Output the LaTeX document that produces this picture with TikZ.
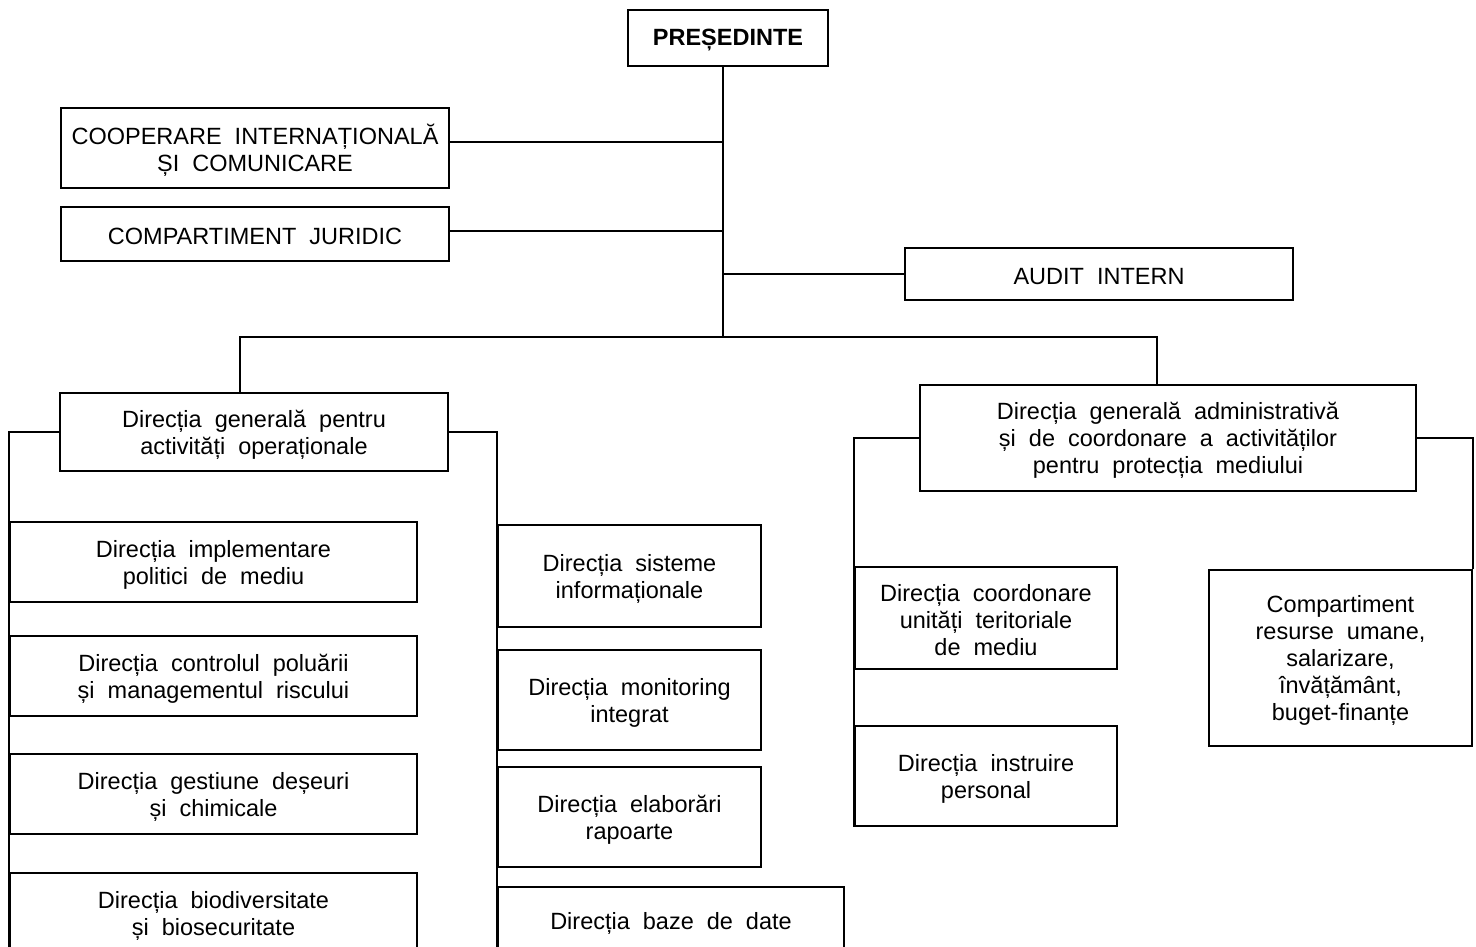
\documentclass[tikz,border=0pt]{standalone}
\usepackage{fontspec}
\setmainfont{Liberation Sans}
\begin{document}
\begin{tikzpicture}[x=1pt,y=-1pt,
  txt/.style={font={\fontsize{23.5}{27}\selectfont\spaceskip=13pt plus 2pt\relax}},
  box/.style={draw, line width=2pt, inner sep=0pt},
  lbl/.style={label={[txt, align=center, yshift=-2.5pt]center:{#1}}},
  conn/.style={line width=2pt}]
\path[use as bounding box, fill=white] (0,0) rectangle (1476,946);
\clip (0,0) rectangle (1476,946);

% boxes
\node[box, minimum width=200pt, minimum height=56pt,
  label={[font={\fontsize{23.5}{27}\selectfont\bfseries}, yshift=-2.5pt]center:PREȘEDINTE}] (pres) at (728,38) {};
\node[box, minimum width=388pt, minimum height=80pt, lbl={COOPERARE INTERNAȚIONALĂ\\ȘI COMUNICARE}] (coop) at (255,148) {};
\node[box, minimum width=388pt, minimum height=54pt, lbl={COMPARTIMENT JURIDIC}] (jur) at (255,234) {};
\node[box, minimum width=388pt, minimum height=52pt, lbl={AUDIT INTERN}] (audit) at (1099,274) {};

\node[box, minimum width=388pt, minimum height=78pt, lbl={Direcția generală pentru\\activități operaționale}] (dgop) at (254,432) {};
\node[box, minimum width=496pt, minimum height=106pt, lbl={Direcția generală administrativă\\și de coordonare a activităților\\pentru protecția mediului}] (dgadm) at (1168,438) {};

\node[box, minimum width=407pt, minimum height=80pt, lbl={Direcția implementare\\politici de mediu}] (impl) at (213.5,562) {};
\node[box, minimum width=407pt, minimum height=80pt, lbl={Direcția controlul poluării\\și managementul riscului}] (ctrl) at (213.5,676) {};
\node[box, minimum width=407pt, minimum height=80pt, lbl={Direcția gestiune deșeuri\\și chimicale}] (gest) at (213.5,794) {};
\node[box, minimum width=407pt, minimum height=80pt, lbl={Direcția biodiversitate\\și biosecuritate}] (bio) at (213.5,913) {};

\node[box, minimum width=263pt, minimum height=102pt, lbl={Direcția sisteme\\informaționale}] (sist) at (629.5,576) {};
\node[box, minimum width=263pt, minimum height=100pt, lbl={Direcția monitoring\\integrat}] (monit) at (629.5,700) {};
\node[box, minimum width=263pt, minimum height=100pt, lbl={Direcția elaborări\\rapoarte}] (elab) at (629.5,817) {};
\node[box, minimum width=346pt, minimum height=68pt, lbl={Direcția baze de date}] (baze) at (671,921) {};

\node[box, minimum width=262pt, minimum height=102pt, lbl={Direcția coordonare\\unități teritoriale\\de mediu}] (coord) at (986,618) {};
\node[box, minimum width=262pt, minimum height=100pt, lbl={Direcția instruire\\personal}] (instr) at (986,776) {};
\node[box, minimum width=263pt, minimum height=176pt, lbl={Compartiment\\resurse umane,\\salarizare,\\învățământ,\\buget-finanțe}] (comp) at (1340.5,658) {};

% connectors
\coordinate (tb) at (723,337);
\coordinate (t1) at (723,142);
\coordinate (t2) at (723,231);
\coordinate (bl) at (240,337);
\coordinate (br) at (1157,337);
\draw[conn] ([xshift=-5pt]pres.south) -- (tb);
\draw[conn] (coop.east |- t1) -- (t1);
\draw[conn] (jur.east |- t2) -- (t2);
\draw[conn] (audit.west) -- (audit.west -| tb);
\draw[conn] (bl |- dgop.north) -- (bl) -- (br) -- (br |- dgadm.north);
\draw[conn] (dgop.west) -| (bio.south west);
\draw[conn] (dgop.east) -| (baze.south west);
\draw[conn] (dgadm.west) -| (instr.south west);
\draw[conn] (dgadm.east) -| (comp.north east);
\end{tikzpicture}
\end{document}
